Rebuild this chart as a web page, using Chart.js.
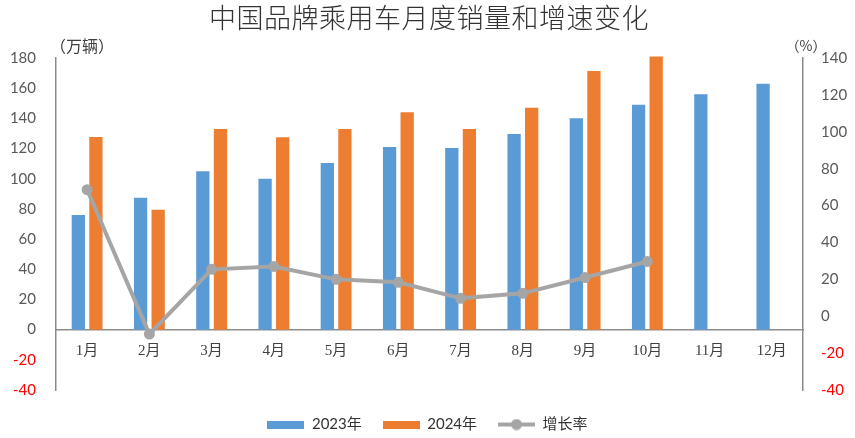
<!DOCTYPE html>
<html>
<head>
<meta charset="utf-8">
<script src="https://cdn.jsdelivr.net/npm/chart.js@4.4.1/dist/chart.umd.min.js"></script>
<style>
html, body { margin: 0; padding: 0; background: #fff; }
#wrap { width: 855px; height: 438px; position: relative; }
</style>
</head>
<body>
<div id="wrap"><canvas id="grafica"></canvas></div>
<script>
var meses = ['1月', '2月', '3月', '4月', '5月', '6月', '7月', '8月', '9月', '10月', '11月', '12月'];
var ventas2023 = [76, 87.4, 105, 100, 110.5, 121, 120.4, 129.7, 140, 149, 156, 163];
var ventas2024 = [127.7, 79.4, 133, 127.5, 133, 144, 133, 147, 171.4, 181, null, null];
var crecimiento = [68.6, -9.7, 25.4, 27, 20, 18.4, 9.7, 12.4, 21, 29.7, null, null];
var etiquetas = ['2023年', '2024年', '增长率'];
var colores = ['#5b9bd5', '#ed7d31', '#a5a5a5'];

function iconoBarra(color) {
    var c = document.createElement('canvas');
    c.width = 37; c.height = 8;
    var g = c.getContext('2d');
    g.fillStyle = color;
    g.fillRect(0, 0, 37, 8);
    return c;
}

function iconoLinea(color) {
    var c = document.createElement('canvas');
    c.width = 37; c.height = 12;
    var g = c.getContext('2d');
    g.strokeStyle = color;
    g.lineWidth = 4;
    g.beginPath(); g.moveTo(0, 6); g.lineTo(37, 6); g.stroke();
    g.fillStyle = color;
    g.beginPath(); g.arc(18.5, 6, 5.5, 0, Math.PI * 2); g.fill();
    return c;
}

var iconos = [iconoBarra(colores[0]), iconoBarra(colores[1]), iconoLinea(colores[2])];

// titulo y unidades de los ejes
var textosExtra = {
    id: 'textosExtra',
    afterDraw: function(chart) {
        var ctx = chart.ctx;
        ctx.save();
        ctx.fillStyle = '#333';
        ctx.textAlign = 'center';
        ctx.textBaseline = 'middle';
        ctx.font = '300 27px "Noto Sans CJK SC"';
        ctx.letterSpacing = '0.5px';
        ctx.fillText('中国品牌乘用车月度销量和增速变化', 429, 18);
        ctx.letterSpacing = '0px';
        ctx.fillStyle = '#404040';
        ctx.font = '16px "Noto Sans CJK SC"';
        ctx.fillText('（万辆）', 82, 46);
        ctx.font = '14px "Noto Sans CJK SC"';
        ctx.fillText('（%）', 806, 46);
        ctx.restore();
    }
};

function colorTick(c) {
    return c.tick.value < 0 ? '#ff0000' : '#595959';
}

var grafica = new Chart(document.getElementById('grafica').getContext('2d'), {
    data: {
        labels: meses,
        datasets: [
            {
                type: 'bar',
                label: etiquetas[0],
                data: ventas2023,
                backgroundColor: colores[0],
                yAxisID: 'y',
                categoryPercentage: 0.565,
                barPercentage: 0.755,
                order: 1
            },
            {
                type: 'bar',
                label: etiquetas[1],
                data: ventas2024,
                backgroundColor: colores[1],
                yAxisID: 'y',
                categoryPercentage: 0.565,
                barPercentage: 0.755,
                clip: false,
                order: 1
            },
            {
                type: 'line',
                label: etiquetas[2],
                data: crecimiento,
                borderColor: colores[2],
                backgroundColor: colores[2],
                borderWidth: 4,
                pointRadius: 5.5,
                pointBorderWidth: 0,
                tension: 0,
                yAxisID: 'y1',
                clip: false,
                order: 0
            }
        ]
    },
    options: {
        responsive: true,
        maintainAspectRatio: false,
        animation: false,
        layout: { padding: { top: 58, left: 0, right: 0, bottom: -4 } },
        plugins: {
            tooltip: { enabled: false },
            title: { display: false },
            legend: {
                position: 'bottom',
                title: { display: true, text: '', padding: 0, font: { size: 5 } },
                labels: {
                    usePointStyle: true,
                    pointStyleWidth: 37,
                    boxHeight: 12,
                    padding: 21,
                    color: '#333',
                    font: { size: 15, family: 'Lato, "Noto Sans CJK SC"' },
                    generateLabels: function(chart) {
                        return chart.data.datasets.map(function(ds, i) {
                            return {
                                text: ds.label,
                                pointStyle: iconos[i],
                                fillStyle: colores[i],
                                strokeStyle: 'transparent',
                                lineWidth: 0,
                                hidden: false,
                                datasetIndex: i,
                                fontColor: '#333'
                            };
                        });
                    }
                }
            }
        },
        scales: {
            x: {
                position: { y: 0 },
                grid: { display: false, drawTicks: false },
                border: { display: true, color: '#8c8c8c', width: 1.5 },
                ticks: {
                    padding: 12,
                    color: '#404040',
                    font: { size: 15, family: '"Liberation Serif", "Noto Sans CJK SC"' }
                }
            },
            y: {
                position: 'left',
                min: -40,
                max: 180,
                afterFit: function(s) { s.width = 56; },
                grid: { display: false, drawTicks: false },
                border: { display: true, color: '#8c8c8c', width: 1.5 },
                ticks: {
                    stepSize: 20,
                    padding: 20,
                    color: colorTick,
                    font: { size: 15, family: 'Lato' }
                }
            },
            y1: {
                position: 'right',
                min: -40,
                max: 140,
                afterFit: function(s) { s.width = 52; },
                grid: { display: false, drawTicks: false },
                border: { display: true, color: '#8c8c8c', width: 1.5 },
                ticks: {
                    stepSize: 20,
                    padding: 18,
                    color: colorTick,
                    font: { size: 15, family: 'Lato' }
                }
            }
        }
    },
    plugins: [textosExtra]
});
</script>
</body>
</html>
